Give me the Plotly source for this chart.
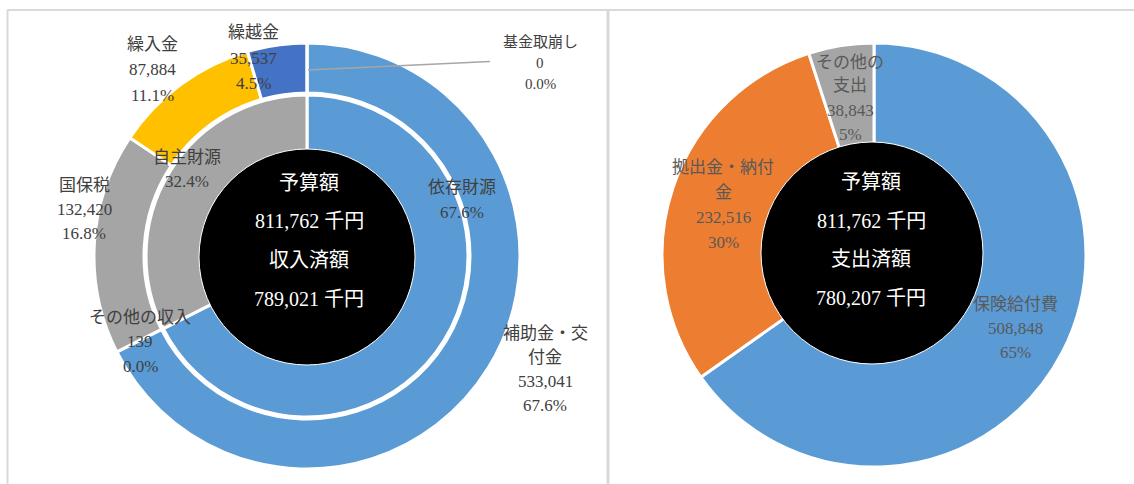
import plotly.graph_objects as go

W, H = 1134, 484

# ---- data ----
rev_names = ["補助金・交付金", "その他の収入", "国保税", "繰入金", "繰越金", "基金取崩し"]
rev_values = [533041, 139, 132420, 87884, 35537, 0]
rev_colors = ["#5B9BD5", "#A5A5A5", "#A5A5A5", "#FFC000", "#4472C4", "#70AD47"]

src_names = ["依存財源", "自主財源"]
src_values = [533041, 255980]
src_colors = ["#5B9BD5", "#A5A5A5"]

exp_names = ["保険給付費", "拠出金・納付金", "その他の支出"]
exp_values = [508848, 232516, 38843]
exp_colors = ["#5B9BD5", "#ED7D31", "#A5A5A5"]

budget = 811762
left_center = ["予算額", f"{budget:,} 千円", "収入済額", f"{sum(rev_values):,} 千円"]
right_center = ["予算額", f"{budget:,} 千円", "支出済額", f"{sum(exp_values):,} 千円"]

FONT = "Liberation Serif, 'Noto Sans CJK JP', serif"


def dom(cx, cy, r):
    return dict(x=[(cx - r) / W, (cx + r) / W], y=[1 - (cy + r) / H, 1 - (cy - r) / H])


fig = go.Figure()

# left outer ring
fig.add_trace(go.Pie(
    values=rev_values, labels=rev_names, sort=False, direction="clockwise", rotation=0,
    hole=163 / 213, domain=dom(307, 256, 213), textinfo="none", hoverinfo="label+value",
    marker=dict(colors=rev_colors, line=dict(color="white", width=3)), showlegend=False))
# left inner ring
fig.add_trace(go.Pie(
    values=src_values, labels=src_names, sort=False, direction="clockwise", rotation=0,
    hole=0.6, domain=dom(307, 256, 161), textinfo="none", hoverinfo="label+value",
    marker=dict(colors=src_colors, line=dict(color="white", width=3)), showlegend=False))
# left center disc
fig.add_trace(go.Pie(
    values=[1], labels=["center"], domain=dom(307, 257, 108), textinfo="none", hoverinfo="skip",
    marker=dict(colors=["black"], line=dict(color="white", width=1)), showlegend=False))

# right ring
fig.add_trace(go.Pie(
    values=exp_values, labels=exp_names, sort=False, direction="clockwise", rotation=0,
    hole=0.5, domain=dom(874, 255, 212), textinfo="none", hoverinfo="label+value",
    marker=dict(colors=exp_colors, line=dict(color="white", width=3)), showlegend=False))
# right center disc
fig.add_trace(go.Pie(
    values=[1], labels=["center"], domain=dom(872, 253, 111), textinfo="none", hoverinfo="skip",
    marker=dict(colors=["black"], line=dict(color="white", width=1)), showlegend=False))

annotations = []


def block(lines, cx, y0, s, size=17, color="#404040"):
    for i, t in enumerate(lines):
        annotations.append(dict(
            x=cx / W, y=1 - (y0 + i * s) / H, xref="paper", yref="paper", text=t,
            showarrow=False, xanchor="center", yanchor="middle",
            font=dict(family=FONT, size=size, color=color)))


tot_rev = sum(rev_values)
rp = [f"{v / tot_rev * 100:.1f}%" for v in rev_values]
tot_src = sum(src_values)
sp = [f"{v / tot_src * 100:.1f}%" for v in src_values]
tot_exp = sum(exp_values)
ep = [f"{v / tot_exp * 100:.0f}%" for v in exp_values]

# left labels
block(["補助金・交", "付金", f"{rev_values[0]:,}", rp[0]], 545, 333, 24)
block([rev_names[1], f"{rev_values[1]:,}", rp[1]], 140, 317, 24.5)
block([rev_names[2], f"{rev_values[2]:,}", rp[2]], 84, 185, 24)
block([rev_names[3], f"{rev_values[3]:,}", rp[3]], 152, 45, 25)
block([rev_names[4], f"{rev_values[4]:,}", rp[4]], 253, 33, 25)
block([rev_names[5], f"{rev_values[5]:,}", rp[5]], 540, 42, 21, size=15)
block([src_names[0], sp[0]], 462, 187, 25)
block([src_names[1], sp[1]], 187, 157, 25)

# right labels
block([exp_names[0], f"{exp_values[0]:,}", ep[0]], 1015, 304, 24, color="#595959")
block(["拠出金・納付", "金", f"{exp_values[1]:,}", ep[1]], 723, 168, 24.7, color="#595959")
block(["その他の", "支出", f"{exp_values[2]:,}", ep[2]], 850, 62, 24, color="#595959")

# center texts
block(left_center, 309, 183, 38.5, size=20, color="white")
block(right_center, 871, 182, 38.7, size=20, color="white")

shapes = [
    # frame
    dict(type="line", xref="paper", yref="paper", x0=7 / W, x1=1, y0=1 - 10 / H, y1=1 - 10 / H,
         line=dict(color="#D9D9D9", width=2)),
    dict(type="line", xref="paper", yref="paper", x0=7.5 / W, x1=7.5 / W, y0=0, y1=1 - 10 / H,
         line=dict(color="#D9D9D9", width=2)),
    dict(type="line", xref="paper", yref="paper", x0=608 / W, x1=608 / W, y0=0, y1=1 - 10 / H,
         line=dict(color="#D9D9D9", width=3)),
    # leader line for zero slice
    dict(type="line", xref="paper", yref="paper", x0=308 / W, x1=490 / W, y0=1 - 70 / H, y1=1 - 61.5 / H,
         line=dict(color="#A6A6A6", width=1.5)),
]

fig.update_layout(
    width=W, height=H, margin=dict(l=0, r=0, t=0, b=0),
    paper_bgcolor="white", plot_bgcolor="white",
    annotations=annotations, shapes=shapes, showlegend=False,
)

fig.write_html("out.html")
